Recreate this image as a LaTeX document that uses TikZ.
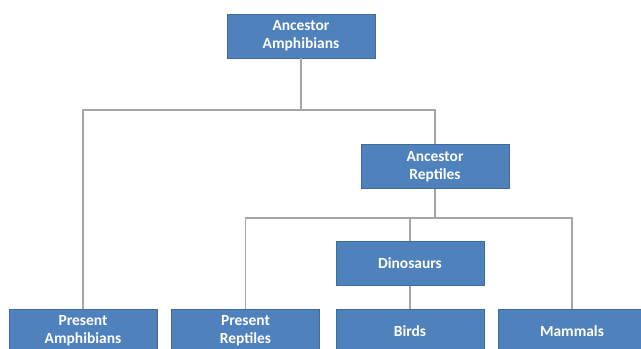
\documentclass[tikz,border=0pt]{standalone}
\usepackage{fontspec}
\setmainfont{Carlito}
\definecolor{boxblue}{HTML}{4F81BD}
\definecolor{boxedge}{HTML}{3F6A9E}
\definecolor{linegrey}{HTML}{A6A6A6}
\begin{document}
\begin{tikzpicture}[
        taxon/.style={draw=boxedge, fill=boxblue, text=white, font=\fontsize{11}{13}\selectfont\bfseries,
                      minimum width=3.7cm, minimum height=1.1cm, align=center, inner sep=1pt},
        link/.style={draw=linegrey, line width=1.4pt}
    ]
        % picture frame
        \clip (0,0) rectangle (16.025,8.725);
        % boxes
        \node[taxon] (ancamph) at (7.525, 7.825)  {Ancestor\\Amphibians};
        \node[taxon] (ancrept) at (10.875, 4.5625) {Ancestor\\Reptiles};
        \node[taxon] (dino)    at (10.25, 2.1375)  {Dinosaurs};
        \node[taxon] (preamph) at (2.075, 0.45)    {Present\\Amphibians};
        \node[taxon] (prerept) at (6.1375, 0.45)   {Present\\Reptiles};
        \node[taxon] (birds)   at (10.25, 0.45)    {Birds};
        \node[taxon] (mammals) at (14.3, 0.45)     {Mammals};
        % branch points
        \coordinate (fork1) at (7.525, 5.975);
        \coordinate (fork2) at (10.875, 3.275);
        % first split
        \draw[link] (ancamph.south) -- (fork1);
        \draw[link] (preamph.north) |- (fork1) -| (ancrept.north);
        % second split
        \draw[link] (ancrept.south) -- (fork2);
        \draw[link] (prerept.north) |- (fork2) -| (mammals.north);
        \draw[link] (dino.north) -- (dino.north |- fork2);
        % dinosaurs to birds
        \draw[link] (dino.south) -- (birds.north);
\end{tikzpicture}
\end{document}
